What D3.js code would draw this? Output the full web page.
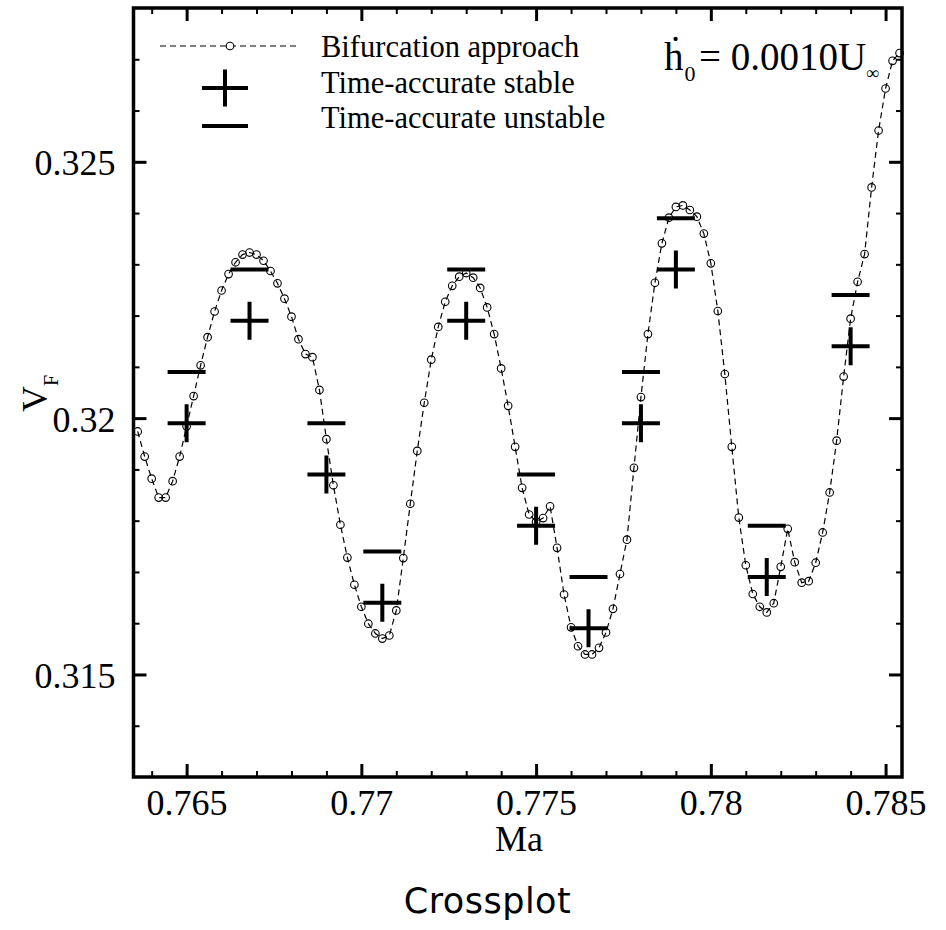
<!DOCTYPE html>
<html>
<head>
<meta charset="utf-8">
<script src="https://cdn.jsdelivr.net/npm/d3@7"></script>
<style>
  body { margin: 0; background: #fff; }
  svg { display: block; }
</style>
</head>
<body>
<svg width="946" height="930"></svg>
<script>

// plot frame (pixels)
const frame = {left: 133.5, right: 902, top: 8, bottom: 777};
const serif = "'Liberation Serif', 'Times New Roman', serif";

// bifurcation approach, Ma and V_F
const bifMa = [
  0.7636, 0.7638, 0.7640, 0.7642, 0.7644, 0.7646, 0.7648, 0.7650, 0.7652, 0.7654,
  0.7656, 0.7658, 0.7660, 0.7662, 0.7664, 0.7666, 0.7668, 0.7670, 0.7672, 0.7674,
  0.7676, 0.7678, 0.7680, 0.7682, 0.7684, 0.7686, 0.7688, 0.7690, 0.7692, 0.7694,
  0.7696, 0.7698, 0.7700, 0.7702, 0.7704, 0.7706, 0.7708, 0.7710, 0.7712, 0.7714,
  0.7716, 0.7718, 0.7720, 0.7722, 0.7724, 0.7726, 0.7728, 0.7730, 0.7732, 0.7734,
  0.7736, 0.7738, 0.7740, 0.7742, 0.7744, 0.7746, 0.7748, 0.7750, 0.7752, 0.7754,
  0.7756, 0.7758, 0.7760, 0.7762, 0.7764, 0.7766, 0.7768, 0.7770, 0.7772, 0.7774,
  0.7776, 0.7778, 0.7780, 0.7782, 0.7784, 0.7786, 0.7788, 0.7790, 0.7792, 0.7794,
  0.7796, 0.7798, 0.7800, 0.7802, 0.7804, 0.7806, 0.7808, 0.7810, 0.7812, 0.7814,
  0.7816, 0.7818, 0.7820, 0.7822, 0.7824, 0.7826, 0.7828, 0.7830, 0.7832, 0.7834,
  0.7836, 0.7838, 0.7840, 0.7842, 0.7844, 0.7846, 0.7848, 0.7850, 0.7852, 0.7854
];
const bifVF = [
  0.31974, 0.31925, 0.31882, 0.31845, 0.31845, 0.31877, 0.31925, 0.31984, 0.32043, 0.32103,
  0.32158, 0.32208, 0.32249, 0.32281, 0.32304, 0.32319, 0.32323, 0.32319, 0.32307, 0.32287,
  0.32263, 0.32233, 0.32198, 0.32154, 0.32125, 0.32119, 0.32055, 0.31959, 0.31869, 0.31792,
  0.31728, 0.31675, 0.31632, 0.31599, 0.31580, 0.31570, 0.31576, 0.31625, 0.31727, 0.31833,
  0.31936, 0.32030, 0.32114, 0.32178, 0.32227, 0.32258, 0.32276, 0.32283, 0.32274, 0.32254,
  0.32216, 0.32164, 0.32097, 0.32024, 0.31944, 0.31864, 0.31812, 0.31798, 0.31805, 0.31828,
  0.31747, 0.31656, 0.31592, 0.31555, 0.31539, 0.31539, 0.31552, 0.31582, 0.31628, 0.31696,
  0.31763, 0.31903, 0.32041, 0.32164, 0.32264, 0.32341, 0.32391, 0.32412, 0.32415, 0.32406,
  0.32393, 0.32360, 0.32302, 0.32209, 0.32086, 0.31944, 0.31806, 0.31713, 0.31657, 0.31632,
  0.31621, 0.31639, 0.31710, 0.31784, 0.31719, 0.31679, 0.31682, 0.31718, 0.31777, 0.31855,
  0.31956, 0.32081, 0.32194, 0.32266, 0.32320, 0.32450, 0.32561, 0.32643, 0.32697, 0.32712
];

// time-accurate runs
const stableMa = [0.765, 0.7668, 0.769, 0.7706, 0.773, 0.775, 0.7765, 0.778, 0.779, 0.7816, 0.784];
const stableVF = [0.3199, 0.3219, 0.3189, 0.3164, 0.3219, 0.3179, 0.3159, 0.3199, 0.3229, 0.3169, 0.3214];
const unstableMa = [0.765, 0.7668, 0.769, 0.7706, 0.773, 0.775, 0.7765, 0.778, 0.779, 0.7816, 0.784];
const unstableVF = [0.3209, 0.3229, 0.3199, 0.3174, 0.3229, 0.3189, 0.3169, 0.3209, 0.3239, 0.3179, 0.3224];

// ticks
const xMajor = [0.765, 0.77, 0.775, 0.78, 0.785];
const xMajorLabels = ["0.765", "0.77", "0.775", "0.78", "0.785"];
const xMinor = [0.764, 0.766, 0.767, 0.768, 0.769, 0.771, 0.772, 0.773, 0.774,
                0.776, 0.777, 0.778, 0.779, 0.781, 0.782, 0.783, 0.784];
const yMajor = [0.315, 0.32, 0.325];
const yMajorLabels = ["0.315", "0.32", "0.325"];
const yMinor = [0.314, 0.316, 0.317, 0.318, 0.319, 0.321, 0.322, 0.323, 0.324, 0.326, 0.327];

const legendLabels = ["Bifurcation approach", "Time-accurate stable", "Time-accurate unstable"];

function crossplot(){
    const svg = d3.select("svg");

    const x = d3.scaleLinear().domain([0.76348, 0.78547]).range([frame.left, frame.right]);
    const y = d3.scaleLinear().domain([0.313, 0.328]).range([frame.bottom, frame.top]);

    // ticks on all four sides, pointing inward
    function ticks(axis, values, len, width, transform){
        const g = svg.append("g")
            .attr("transform", transform)
            .call(axis.tickValues(values).tickSize(-len).tickSizeOuter(0).tickFormat(""));
        g.select(".domain").remove();
        g.selectAll("line").attr("stroke", "#000").attr("stroke-width", width);
        return g;
    }
    const bottom = ticks(d3.axisBottom(x), xMajor, 13, 3, `translate(0,${frame.bottom})`);
    ticks(d3.axisBottom(x), xMinor, 6, 2, `translate(0,${frame.bottom})`);
    ticks(d3.axisTop(x), xMajor, 13, 3, `translate(0,${frame.top})`);
    ticks(d3.axisTop(x), xMinor, 6, 2, `translate(0,${frame.top})`);
    const left = ticks(d3.axisLeft(y), yMajor, 13, 3, `translate(${frame.left},0)`);
    ticks(d3.axisLeft(y), yMinor, 6, 2, `translate(${frame.left},0)`);
    ticks(d3.axisRight(y), yMajor, 13, 3, `translate(${frame.right},0)`);
    ticks(d3.axisRight(y), yMinor, 6, 2, `translate(${frame.right},0)`);

    // tick labels
    bottom.selectAll("text")
        .text((d, i) => xMajorLabels[i])
        .attr("y", 38).attr("dy", null)
        .attr("fill", "#000")
        .style("font", `36px ${serif}`);
    left.selectAll("text")
        .text((d, i) => yMajorLabels[i])
        .attr("x", -18).attr("dy", 13)
        .attr("fill", "#000")
        .style("font", `36px ${serif}`);

    // frame
    svg.append("rect")
        .attr("x", frame.left).attr("y", frame.top)
        .attr("width", frame.right - frame.left)
        .attr("height", frame.bottom - frame.top)
        .attr("fill", "none").attr("stroke", "#000").attr("stroke-width", 3.5);

    // bifurcation curve
    const pts = d3.zip(bifMa, bifVF);
    svg.append("path")
        .datum(pts)
        .attr("d", d3.line().x(d => x(d[0])).y(d => y(d[1])))
        .attr("fill", "none").attr("stroke", "#000")
        .attr("stroke-width", 1.2).attr("stroke-dasharray", "6,4");
    svg.append("g").selectAll("circle")
        .data(pts).enter().append("circle")
            .attr("cx", d => x(d[0])).attr("cy", d => y(d[1])).attr("r", 3.8)
            .attr("fill", "none").attr("stroke", "#000").attr("stroke-width", 1.1);

    // unstable: bars
    svg.append("g").selectAll("line")
        .data(d3.zip(unstableMa, unstableVF)).enter().append("line")
            .attr("x1", d => x(d[0]) - 19).attr("x2", d => x(d[0]) + 19)
            .attr("y1", d => y(d[1])).attr("y2", d => y(d[1]))
            .attr("stroke", "#000").attr("stroke-width", 4);

    // stable: crosses
    svg.append("g").selectAll("path")
        .data(d3.zip(stableMa, stableVF)).enter().append("path")
            .attr("d", d => {
                const cx = x(d[0]), cy = y(d[1]);
                return `M${cx - 19},${cy}H${cx + 19}M${cx},${cy - 19}V${cy + 19}`;
            })
            .attr("fill", "none").attr("stroke", "#000").attr("stroke-width", 4);

    // legend
    const lg = svg.append("g");
    lg.append("line").attr("x1", 160).attr("x2", 300).attr("y1", 46).attr("y2", 46)
        .attr("stroke", "#000").attr("stroke-width", 1.2).attr("stroke-dasharray", "6,4");
    lg.append("circle").attr("cx", 230).attr("cy", 46).attr("r", 3.8)
        .attr("fill", "#fff").attr("stroke", "#000").attr("stroke-width", 1.1);
    lg.append("path").attr("d", "M202,88H248M225,69.5V106.5")
        .attr("stroke", "#000").attr("stroke-width", 4);
    lg.append("line").attr("x1", 202).attr("x2", 248).attr("y1", 126).attr("y2", 126)
        .attr("stroke", "#000").attr("stroke-width", 4);
    lg.selectAll("text")
        .data(legendLabels).enter().append("text")
            .attr("x", 321)
            .attr("y", (d, i) => [57, 93, 128][i])
            .style("font", `30.5px ${serif}`)
            .text(d => d);

    // rate annotation: h-dot, subscript 0, then the value with a subscript infinity
    const ann = svg.append("text").style("font", `39px ${serif}`);
    ann.append("tspan").attr("x", 664).attr("y", 70).text("ḣ");
    ann.append("tspan").attr("x", 684.5).attr("y", 81).style("font-size", "22px").text("0");
    ann.append("tspan").attr("x", 699).attr("y", 70).text("= 0.0010U");
    ann.append("tspan").attr("x", 866).attr("y", 79).style("font-size", "18px").text("∞");

    // axis titles
    svg.append("text")
        .attr("x", 519).attr("y", 851)
        .attr("text-anchor", "middle")
        .style("font", `36px ${serif}`)
        .text("Ma");
    const yt = svg.append("text")
        .attr("transform", "translate(47,412) rotate(-90)")
        .style("font", `36px ${serif}`);
    yt.append("tspan").text("V");
    yt.append("tspan").attr("dy", 11).style("font-size", "20px").text("F");

    // title below
    svg.append("text")
        .attr("x", 487.5).attr("y", 913)
        .attr("text-anchor", "middle")
        .style("font", "35px 'DejaVu Sans', sans-serif")
        .style("letter-spacing", "0.5px")
        .text("Crossplot");
}

crossplot();
</script>
</body>
</html>
